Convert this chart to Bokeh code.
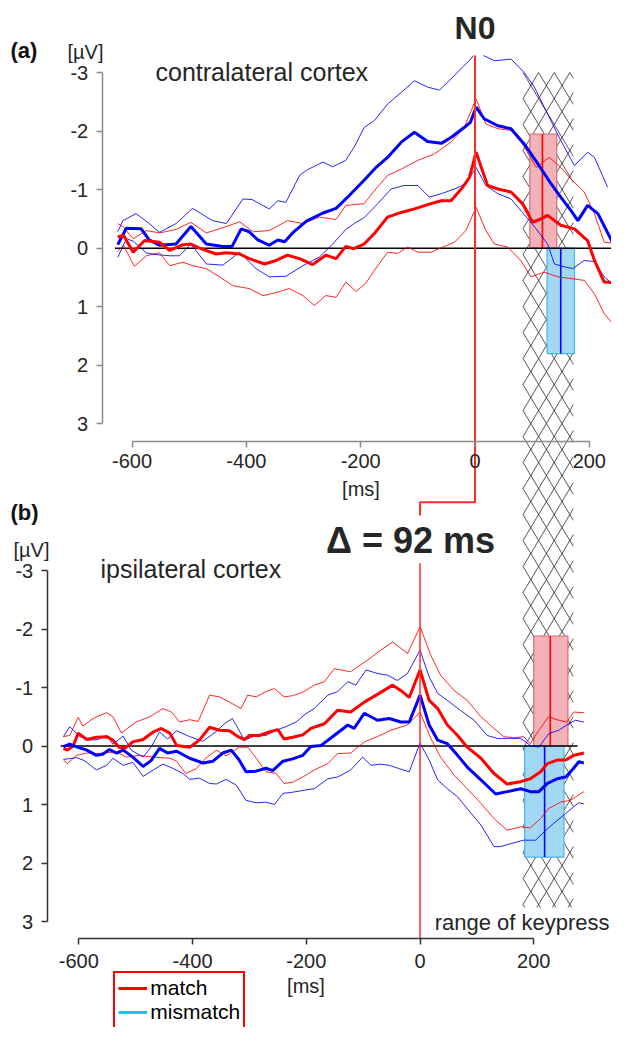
import numpy as np
from bokeh.plotting import figure
from bokeh.models import (Range1d, LinearAxis, FixedTicker, Label, Legend,
                          LegendItem, ColumnDataSource)
from bokeh.embed import file_html
from bokeh.resources import INLINE

# ---------------- data : (a) contralateral cortex ----------------
top_match_mean_t = [-625, -615, -598, -578, -552, -534, -511, -497, -482, -453, -435, -412, -395, -368,
                    -348, -328, -307, -284, -261, -243, -226, -212, -194, -176, -153, -129, -106, -77,
                    -59, -42, -24, -10, 2, 12, 22, 40, 63, 83, 101, 115, 127, 150, 174, 197, 209, 226, 241]
top_match_mean_v = [-0.19, -0.22, 0.07, -0.13, -0.10, 0.04, -0.06, -0.07, 0.00, 0.10, 0.08, 0.10, 0.18, 0.27,
                    0.21, 0.12, 0.18, 0.28, 0.12, 0.18, -0.03, 0.01, -0.07, -0.25, -0.53, -0.61, -0.67, -0.76,
                    -0.81, -0.81, -1.01, -1.20, -1.64, -1.35, -1.07, -1.01, -0.96, -0.76, -0.44, -0.50, -0.56,
                    -0.39, -0.33, -0.13, 0.21, 0.58, 0.59]

top_match_hi_t = [-625, -615, -598, -575, -552, -523, -497, -470, -441, -412, -388, -360, -328, -301, -272,
                  -243, -226, -205, -194, -176, -153, -129, -100, -71, -42, -19, 2, 19, 40, 63, 83, 107, 130,
                  150, 168, 191, 209, 226, 241]
top_match_hi_v = [-0.42, -0.36, -0.16, -0.30, -0.26, -0.32, -0.44, -0.26, -0.35, -0.45, -0.28, -0.30, -0.47,
                  -0.42, -0.53, -0.49, -0.73, -0.75, -0.76, -0.98, -1.24, -1.35, -1.50, -1.61, -1.81, -2.06,
                  -2.55, -2.12, -2.04, -2.01, -1.78, -1.38, -1.55, -1.38, -1.18, -0.96, -0.59, -0.10, -0.09]

top_match_lo_t = [-625, -615, -596, -575, -552, -534, -511, -494, -470, -447, -424, -395, -371, -348, -325,
                  -301, -281, -261, -243, -226, -208, -191, -176, -153, -135, -118, -100, -77, -56, -36, -16,
                  2, 19, 34, 57, 80, 98, 121, 145, 168, 191, 209, 226, 241]
top_match_lo_v = [0.06, -0.05, 0.31, 0.13, 0.08, 0.30, 0.24, 0.30, 0.35, 0.49, 0.64, 0.69, 0.81, 0.76, 0.69,
                  0.81, 0.98, 0.81, 0.84, 0.58, 0.74, 0.60, 0.38, 0.07, 0.09, -0.02, 0.07, 0.07, -0.02, -0.10,
                  -0.30, -0.70, -0.30, -0.07, -0.02, 0.21, 0.49, 0.41, 0.49, 0.52, 0.55, 0.78, 1.12, 1.29]

top_mism_mean_t = [-625, -610, -584, -570, -552, -523, -497, -470, -441, -425, -409, -395, -380, -360, -345,
                   -333, -319, -295, -266, -243, -220, -194, -173, -153, -129, -106, -83, -59, -42, -19, -8,
                   2, 16, 40, 63, 86, 110, 133, 150, 168, 180, 197, 215, 241]
top_mism_mean_v = [-0.06, -0.34, -0.33, -0.14, -0.05, -0.07, -0.37, -0.07, -0.03, -0.03, -0.33, -0.28, -0.14,
                   -0.05, -0.14, -0.11, -0.26, -0.46, -0.60, -0.68, -0.90, -1.16, -1.38, -1.55, -1.81, -1.98,
                   -1.82, -1.79, -1.89, -2.06, -2.15, -2.41, -2.21, -2.09, -2.04, -1.78, -1.44, -1.10, -0.87,
                   -0.64, -0.47, -0.73, -0.59, -0.09]

top_mism_hi_t = [-625, -616, -593, -570, -552, -523, -494, -459, -435, -406, -390, -360, -345, -331, -307,
                 -295, -266, -249, -226, -210, -194, -176, -153, -129, -106, -83, -62, -42, -19, -10, -3,
                 None, 15, 34, 63, 86, 104, 127, 150, 174, 197, 209, 232]
top_mism_hi_v = [-0.28, -0.47, -0.59, -0.42, -0.27, -0.42, -0.68, -0.47, -0.42, -0.84, -0.83, -0.67, -0.81,
                 -0.78, -1.24, -1.33, -1.47, -1.39, -1.50, -1.75, -2.06, -2.18, -2.46, -2.66, -2.86, -2.75,
                 -2.70, -2.89, -3.12, -3.20, -3.29, None, -3.29, -3.20, -3.23, -3.00, -2.75, -2.29, -1.84,
                 -1.41, -1.64, -1.55, -1.04]

top_mism_lo_t = [-625, -610, -598, -575, -558, -534, -517, -497, -470, -441, -412, -383, -360, -331, -301,
                 -272, -249, -226, -210, -194, -170, -147, -124, -100, -80, -59, -36, -16, 2, 19, 40, 63, 83,
                 107, 127, 139, 157, 171, 191, 209, 226, 241]
top_mism_lo_v = [0.16, -0.16, -0.12, 0.08, 0.11, 0.13, 0.13, -0.07, 0.27, 0.29, 0.07, 0.35, 0.49, 0.48, 0.30,
                 0.15, -0.07, -0.32, -0.43, -0.52, -0.76, -1.01, -1.07, -1.07, -0.87, -0.93, -1.01, -1.10,
                 -1.38, -1.07, -0.93, -0.84, -0.61, -0.33, -0.07, 0.27, 0.32, 0.35, 0.21, 0.23, 0.49, 0.61]

# keypress boxes (contralateral): [match, mismatch]
top_box_left = [96, 126]
top_box_right = [143, 174]
top_box_value = [-1.95, 1.80]
top_box_median = [118, 150]
top_zero_t = [-630, 251]

# ---------------- data : (b) ipsilateral cortex ----------------
bot_match_mean_t = [-627, -620, -610, -601, -586, -569, -551, -540, -529, -519, -505, -487, -469, -455, -440,
                    -428, -405, -388, -370, -353, -335, -320, -309, -300, -282, -265, -250, -239, -224, -206,
                    -192, -168, -145, -122, -98, -72, -48, -34, -19, 0, 16, 31, 48, 66, 83, 107, 130, 153,
                    177, 194, 212, 224, 241, 256, 270, 288]
bot_match_mean_v = [0.04, 0.07, 0.00, -0.22, -0.11, -0.15, -0.16, -0.10, 0.02, 0.04, -0.07, -0.11, -0.24,
                    -0.30, -0.22, -0.01, 0.02, -0.10, -0.32, -0.27, -0.26, -0.16, -0.11, -0.18, -0.18, -0.24,
                    -0.28, -0.12, -0.15, -0.19, -0.30, -0.38, -0.61, -0.58, -0.75, -0.90, -1.04, -0.95, -0.83,
                    -1.30, -0.78, -0.64, -0.36, -0.18, 0.02, 0.21, 0.47, 0.65, 0.61, 0.56, 0.44, 0.30, 0.24,
                    0.24, 0.16, 0.12]

bot_match_hi_t = [-627, -616, -601, -593, -575, -551, -540, -525, -512, -499, -475, -452, -437, -423, -405,
                  -390, -370, -353, -335, -315, -303, -288, -271, -256, -239, -224, -206, -186, -168, -151,
                  -122, -92, -69, -48, -22, 0, 19, 36, 60, 83, 107, 130, 147, 165, 182, 194, 209, 226, 244,
                  258, 270, 288]
bot_match_hi_v = [-0.16, -0.18, -0.49, -0.34, -0.47, -0.57, -0.50, -0.22, -0.32, -0.41, -0.50, -0.64, -0.58,
                  -0.41, -0.45, -0.42, -0.87, -0.84, -0.75, -0.64, -0.87, -0.84, -0.93, -0.98, -0.84, -0.86,
                  -0.92, -1.04, -1.10, -1.32, -1.27, -1.47, -1.64, -1.78, -1.58, -2.04, -1.55, -1.21, -0.95,
                  -0.78, -0.50, -0.30, -0.16, -0.14, -0.16, -0.04, -0.27, -0.50, -0.44, -0.41, -0.58, -0.57]

bot_match_lo_t = [-627, -620, -604, -586, -569, -546, -529, -516, -493, -469, -440, -428, -412, -394, -377,
                  -358, -341, -318, -303, -288, -271, -253, -239, -224, -206, -186, -162, -145, -122, -98,
                  -75, -51, -22, 0, 19, 36, 60, 83, 107, 130, 153, 177, 194, 212, 226, 247, 264, 288]
bot_match_lo_v = [0.24, 0.30, 0.16, 0.12, 0.13, 0.11, 0.13, 0.19, 0.16, 0.19, 0.21, 0.26, 0.47, 0.39, 0.21,
                  0.07, 0.17, 0.02, 0.02, 0.21, 0.44, 0.47, 0.64, 0.62, 0.53, 0.41, 0.30, 0.13, 0.12, -0.07,
                  -0.16, -0.27, -0.36, -0.58, -0.13, 0.19, 0.50, 0.73, 0.98, 1.24, 1.44, 1.38, 1.40, 1.24,
                  1.07, 0.96, 0.93, 0.78]

bot_mism_mean_t = [-627, -616, -605, -586, -569, -558, -546, -534, -522, -505, -487, -473, -458, -444, -428,
                   -405, -382, -364, -347, -332, -318, -306, -288, -271, -259, -241, -224, -206, -192, -174,
                   -151, -127, -116, -98, -75, -54, -34, -19, 0, 16, 31, 48, 66, 83, 107, 133, 153, 177, 194,
                   209, 224, 241, 256, 270, 279, 288]
bot_mism_mean_v = [0.01, -0.03, 0.01, 0.07, 0.16, 0.14, 0.06, 0.12, 0.07, 0.19, 0.35, 0.25, 0.04, 0.12, 0.09,
                   0.21, 0.29, 0.26, 0.12, 0.07, 0.24, 0.44, 0.43, 0.38, 0.42, 0.26, 0.22, 0.16, 0.01, -0.01,
                   -0.18, -0.36, -0.30, -0.56, -0.44, -0.47, -0.41, -0.41, -0.87, -0.36, -0.10, -0.04, 0.16,
                   0.36, 0.58, 0.82, 0.78, 0.73, 0.78, 0.78, 0.64, 0.56, 0.53, 0.38, 0.27, 0.29]

bot_mism_hi_t = [-627, -616, -598, -582, -566, -551, -540, -522, -508, -487, -473, -458, -444, -428, -405,
                 -382, -358, -344, -330, -320, -309, -288, -271, -253, -236, -218, -201, -186, -162, -145,
                 -127, -113, -95, -75, -57, -40, -22, 0, 16, 31, 48, 71, 95, 118, 136, 159, 177, 194, 209,
                 226, 244, 258, 273, 288]
bot_mism_hi_v = [-0.16, -0.33, -0.16, -0.10, -0.11, -0.18, -0.03, -0.17, 0.07, 0.19, 0.02, -0.24, -0.12,
                 -0.26, -0.16, -0.08, -0.25, -0.38, -0.47, -0.30, -0.10, -0.18, -0.18, -0.27, -0.33, -0.41,
                 -0.55, -0.64, -0.87, -0.93, -1.10, -1.04, -1.30, -1.24, -1.21, -1.12, -1.24, -1.64, -1.18,
                 -0.90, -0.78, -0.61, -0.44, -0.18, -0.13, -0.13, -0.13, -0.01, 0.02, -0.21, -0.27, -0.36,
                 -0.44, -0.41]

bot_mism_lo_t = [-627, -604, -590, -569, -551, -540, -522, -505, -487, -469, -452, -435, -417, -405, -388,
                 -370, -358, -341, -323, -306, -288, -271, -256, -241, -224, -206, -186, -162, -145, -122,
                 -101, -86, -70, -54, -36, -19, 0, 16, 31, 48, 66, 83, 107, 130, 142, 159, 182, 203, 218,
                 235, 253, 270, 279, 288]
bot_mism_lo_v = [0.23, 0.20, 0.25, 0.41, 0.33, 0.21, 0.33, 0.28, 0.52, 0.41, 0.31, 0.38, 0.47, 0.57, 0.55,
                 0.64, 0.65, 0.57, 0.67, 0.93, 0.97, 0.96, 1.00, 0.81, 0.79, 0.76, 0.73, 0.56, 0.53, 0.41,
                 0.19, 0.33, 0.31, 0.33, 0.39, 0.44, -0.05, 0.24, 0.58, 0.73, 0.87, 1.07, 1.35, 1.72, 1.72,
                 1.67, 1.61, 1.61, 1.47, 1.32, 1.18, 1.04, 0.97, 0.99]

bot_box_left = [200, 184]
bot_box_right = [260, 253]
bot_box_value = [-1.88, 1.90]
bot_box_median = [229, 219]
bot_zero_t = [-632, 277]

# keypress range on the contralateral time axis, and the N0 shift
keypress_range = [84, 172]
delta_ms = 92
y_ticks = [-3, -2, -1, 0, 1, 2, 3]
x_ticks = [-600, -400, -200, 0, 200]
legend_labels = ["match", "mismatch"]

# ---------------- layout constants (canvas px) ----------------
W, H = 611, 1027
TX0, TKX = 474.5, 0.5716
TY0, TKY = 247.65, 58.55
BX0, BKX = 419.55, 0.56875
BY0, BKY = 745.5, 58.5

def tx(px): return (px - TX0) / TKX
def ty(py): return (py - TY0) / TKY
def bx(px): return (px - BX0) / BKX
def by(py): return (py - BY0) / BKY

RED, BLUE = "#ff0000", "#0000ff"
FONT = "Liberation Sans"
TXT = "#262626"

p = figure(width=W, height=H, title=None,
           x_range=Range1d(tx(0), tx(W)), y_range=Range1d(ty(H), ty(0)),
           x_axis_location=None, y_axis_location=None,
           toolbar_location=None, output_backend="svg", min_border=0)
p.extra_x_ranges = {"xb": Range1d(bx(0), bx(W))}
p.extra_y_ranges = {"yb": Range1d(by(H), by(0))}
p.outline_line_color = None
p.grid.visible = False
p.background_fill_color = "white"

# ---------------- hatch column (range of keypress) ----------------
def hatch_segments(x0, x1, y0, y1, cw, ch):
    xs, ys = [], []
    slope = ch / cw
    n = int((y1 - y0) / ch) + int((x1 - x0) / cw) + 3
    for sgn in (1, -1):
        for k in range(-n, n + 1):
            ya = y0 + k * ch
            dy = sgn * slope * (x1 - x0)
            t1, t2 = (y0 - ya) / dy, (y1 - ya) / dy
            lo, hi = max(0.0, min(t1, t2)), min(1.0, max(t1, t2))
            if hi > lo:
                xs.append([x0 + lo * (x1 - x0), x0 + hi * (x1 - x0)])
                ys.append([ya + lo * dy, ya + hi * dy])
    return xs, ys

hx, hy = hatch_segments(keypress_range[0], keypress_range[1], -3.0, ty(907),
                        15.6 / TKX, 26.0 / TKY)
p.multi_line(hx, hy, line_color="#2a2a2a", line_width=0.8)

# ---------------- keypress boxes ----------------
box_fill = ["#f3b2b8", "#a2d8f4"]
box_line = ["#e06a74", "#49b6e6"]
med_col = [RED, BLUE]

top_src = ColumnDataSource(dict(l=top_box_left, r=top_box_right, b=[0, 0], t=top_box_value,
                                m=top_box_median, fc=box_fill, lc=box_line, mc=med_col))
p.quad(left="l", right="r", bottom="b", top="t", fill_color="fc", line_color="lc",
       line_width=1.2, source=top_src)
p.segment(x0="m", y0="b", x1="m", y1="t", line_color="mc", line_width=1.6, source=top_src)

bot_src = ColumnDataSource(dict(l=bot_box_left, r=bot_box_right, b=[0, 0], t=bot_box_value,
                                m=bot_box_median, fc=box_fill, lc=box_line, mc=med_col))
p.quad(left="l", right="r", bottom="b", top="t", fill_color="fc", line_color="lc",
       line_width=1.2, source=bot_src, x_range_name="xb", y_range_name="yb")
p.segment(x0="m", y0="b", x1="m", y1="t", line_color="mc", line_width=1.6, source=bot_src,
          x_range_name="xb", y_range_name="yb")

# zero lines
p.line(top_zero_t, [0, 0], line_color="black", line_width=1.5)
p.line(bot_zero_t, [0, 0], line_color="black", line_width=1.5, x_range_name="xb", y_range_name="yb")

# ---------------- curves ----------------
def nanify(a):
    return [np.nan if v is None else v for v in a]

thin = dict(line_width=1.0, line_alpha=0.85)
p.line(top_match_hi_t, top_match_hi_v, line_color=RED, **thin)
p.line(top_match_lo_t, top_match_lo_v, line_color=RED, **thin)
p.line(nanify(top_mism_hi_t), nanify(top_mism_hi_v), line_color=BLUE, **thin)
p.line(top_mism_lo_t, top_mism_lo_v, line_color=BLUE, **thin)
p.line(top_mism_mean_t, top_mism_mean_v, line_color=BLUE, line_width=3)
p.line(top_match_mean_t, top_match_mean_v, line_color=RED, line_width=3)

bk = dict(x_range_name="xb", y_range_name="yb")
p.line(bot_match_hi_t, bot_match_hi_v, line_color=RED, **thin, **bk)
p.line(bot_match_lo_t, bot_match_lo_v, line_color=RED, **thin, **bk)
p.line(bot_mism_hi_t, bot_mism_hi_v, line_color=BLUE, **thin, **bk)
p.line(bot_mism_lo_t, bot_mism_lo_v, line_color=BLUE, **thin, **bk)
p.line(bot_match_mean_t, bot_match_mean_v, line_color=RED, line_width=3, **bk)
p.line(bot_mism_mean_t, bot_mism_mean_v, line_color=BLUE, line_width=3, **bk)

# ---------------- N0 marker and delta connector ----------------
x_conn = tx(BX0)   # bottom panel's zero, in top-panel time units
p.line([0, 0, x_conn, x_conn], [ty(55), ty(501.7), ty(501.7), ty(515)],
       line_color="#ff2a2a", line_width=2)
p.line([0, 0], [by(562.7), by(937.7)], line_color="#ff2a2a", line_width=1.5, **bk)

# ---------------- axes ----------------
def make_axis(fixed, ticks, color, standoff, label=None, label_standoff=3, **rk):
    ax = LinearAxis(fixed_location=fixed, bounds=(ticks[0], ticks[-1]),
                    ticker=FixedTicker(ticks=ticks, minor_ticks=[]), **rk)
    ax.major_label_overrides = {t: str(t) for t in ticks}
    ax.axis_line_color = color
    ax.axis_line_width = 1.5
    ax.major_tick_line_color = color
    ax.major_tick_line_width = 1.5
    ax.major_tick_out = 6
    ax.major_tick_in = 0
    ax.minor_tick_line_color = None
    ax.major_label_text_font = FONT
    ax.major_label_text_font_size = "20px"
    ax.major_label_text_color = TXT
    ax.major_label_standoff = standoff
    if label:
        ax.axis_label = label
        ax.axis_label_text_font = FONT
        ax.axis_label_text_font_size = "20px"
        ax.axis_label_text_font_style = "normal"
        ax.axis_label_text_color = TXT
        ax.axis_label_standoff = label_standoff
    return ax

p.add_layout(make_axis(tx(101.7), y_ticks, "#8a8a8a", 8), "left")
p.add_layout(make_axis(ty(441), x_ticks, "#8a8a8a", 6, "[ms]", label_standoff=7), "below")
p.add_layout(make_axis(bx(46.7), y_ticks, "#333333", 8, **bk), "left")
p.add_layout(make_axis(by(937.7), x_ticks, "#333333", 10, "[ms]", label_standoff=3, **bk), "below")

# ---------------- texts ----------------
def label(text, px, py, size, panel="top", bold=False, align="left", color=TXT):
    # (px, py): pixel position of the text baseline; the renderer places the
    # anchor about 0.35 em above the baseline, so compensate for that
    py = py - 0.35 * size
    if panel == "top":
        x, y, rk = tx(px), ty(py), {}
    else:
        x, y, rk = bx(px), by(py), bk
    p.add_layout(Label(x=x, y=y, text=text, text_font=FONT, text_font_size="%dpx" % size,
                       text_font_style="bold" if bold else "normal", text_align=align,
                       text_baseline="alphabetic", text_color=color, **rk))

label("(a)", 10, 58, 22, bold=True, color="#111111")
label("[µV]", 67, 58, 20)
label("contralateral cortex", 155, 80, 25)
label("N0", TX0, 38.5, 32, bold=True, align="center")
label("(b)", 10, 520, 22, panel="bot", bold=True, color="#111111")
label("\u0394 = %d ms" % delta_ms, 410, 553, 36, panel="bot", bold=True, align="center")
label("[µV]", 13, 556, 20, panel="bot")
label("ipsilateral cortex", 100, 577, 25, panel="bot")
label("range of keypress", 609, 930, 22, panel="bot", align="right")

# ---------------- legend ----------------
lg_match = p.line([np.nan], [np.nan], line_color=RED, line_width=3)
lg_mism = p.line([np.nan], [np.nan], line_color="#1ec3f3", line_width=3)
legend = Legend(items=[LegendItem(label=legend_labels[0], renderers=[lg_match]),
                       LegendItem(label=legend_labels[1], renderers=[lg_mism])],
                location=(113.3, -2), orientation="vertical",
                border_line_color="#ff0000", border_line_width=2, border_line_alpha=1.0,
                background_fill_color="white", background_fill_alpha=1.0,
                label_text_font=FONT, label_text_font_size="21px", label_text_color="black",
                glyph_width=29, glyph_height=22, label_height=22, label_standoff=3,
                spacing=0, padding=3, margin=0)
p.add_layout(legend)

open("out.html", "w").write(file_html(p, INLINE))
